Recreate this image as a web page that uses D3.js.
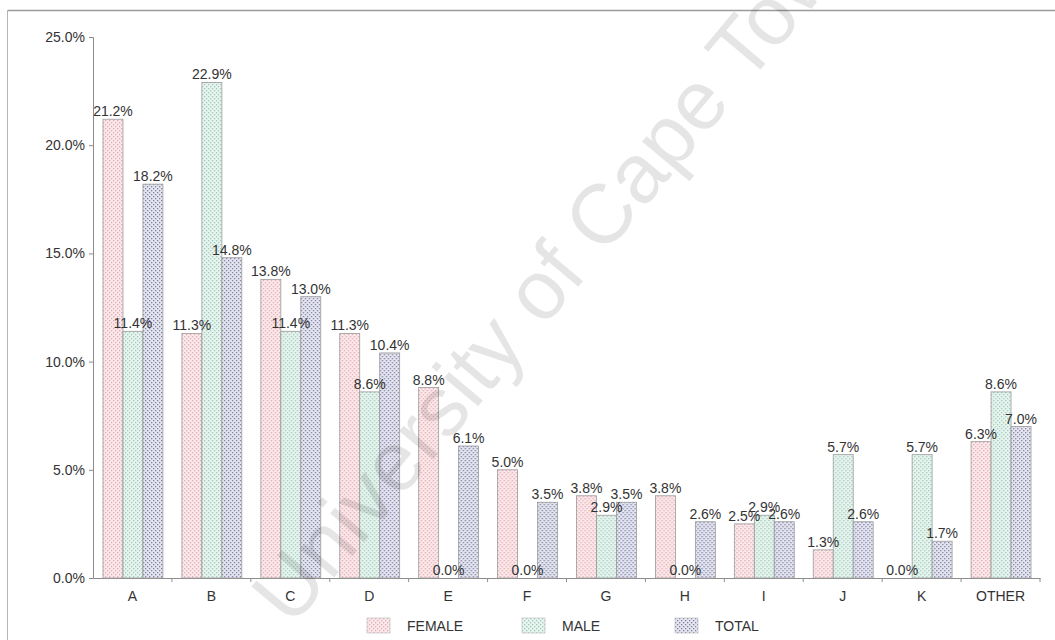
<!DOCTYPE html>
<html>
<head>
<meta charset="utf-8">
<script src="https://cdn.jsdelivr.net/npm/d3@7"></script>
<style>
  body { margin: 0; background: #fff; }
  svg { display: block; font-family: "Liberation Sans", Arial, sans-serif; }
</style>
</head>
<body>
<svg id="chart" width="1055" height="640"></svg>
<script>
'use strict'

// categories and series
const categories = ['A', 'B', 'C', 'D', 'E', 'F', 'G', 'H', 'I', 'J', 'K', 'OTHER']
const series = ['FEMALE', 'MALE', 'TOTAL']
const female = [21.2, 11.3, 13.8, 11.3, 8.8, 5.0, 3.8, 3.8, 2.5, 1.3, 0.0, 6.3]
const male = [11.4, 22.9, 11.4, 8.6, 0.0, 0.0, 2.9, 0.0, 2.9, 5.7, 5.7, 8.6]
const total = [18.2, 14.8, 13.0, 10.4, 6.1, 3.5, 3.5, 2.6, 2.6, 2.6, 1.7, 7.0]
const yTicks = [0, 5, 10, 15, 20, 25]

const values = [female, male, total]

// dotted fills, one per series
const fills = [
    { bg: '#fbe9eb', dot: '#e3a9b0' },
    { bg: '#e8f4ef', dot: '#9ccbb8' },
    { bg: '#e6e6f0', dot: '#7e7fa6' },
]

const svg = d3.select('#chart')
const margin = { top: 37, right: 15, bottom: 62, left: 93 }
const width = 1055
const height = 640
const x0 = margin.left, x1 = width - margin.right
const yBase = height - margin.bottom

const defs = svg.append('defs')
fills.forEach((f, i) => {
    const p = defs.append('pattern')
        .attr('id', 'pat' + i)
        .attr('patternUnits', 'userSpaceOnUse')
        .attr('width', 4).attr('height', 4)
    p.append('rect').attr('width', 4).attr('height', 4).attr('fill', f.bg)
    p.append('rect').attr('x', 0).attr('y', 0).attr('width', 1.3).attr('height', 1.3).attr('fill', f.dot)
    p.append('rect').attr('x', 2).attr('y', 2).attr('width', 1.3).attr('height', 1.3).attr('fill', f.dot)
})

// scanned page frame
svg.append('line').attr('x1', 8).attr('x2', width).attr('y1', 10.5).attr('y2', 10.5)
    .attr('stroke', '#9a9a9a').attr('stroke-width', 1.5)
svg.append('line').attr('x1', 7.5).attr('x2', 7.5).attr('y1', 10).attr('y2', height)
    .attr('stroke', '#b5b5b5').attr('stroke-width', 1)

const x = d3.scaleBand().domain(categories).range([x0, x1]).paddingInner(0).paddingOuter(0)
const xs = d3.scaleBand().domain(series).range([10, x.bandwidth() - 9]).padding(0)
const y = d3.scaleLinear().domain([0, 25]).range([yBase, margin.top])

// y axis
const yAxis = svg.append('g')
    .attr('transform', `translate(${x0},0)`)
    .call(d3.axisLeft(y).tickValues(yTicks).tickSize(4).tickFormat(d => d3.format('.1f')(d) + '%'))
yAxis.select('.domain').attr('stroke', '#8c8c8c')
yAxis.selectAll('.tick line').attr('stroke', '#8c8c8c')
yAxis.selectAll('.tick text').attr('fill', '#333').attr('font-size', 14).attr('x', -8)
    .attr('font-family', '"Liberation Sans", Arial, sans-serif')

// x axis
const xAxis = svg.append('g')
    .attr('transform', `translate(0,${yBase})`)
    .call(d3.axisBottom(x).tickSize(0).tickPadding(13))
xAxis.select('.domain').attr('stroke', '#8c8c8c')
xAxis.selectAll('.tick text').attr('fill', '#333').attr('font-size', 14)
    .attr('font-family', '"Liberation Sans", Arial, sans-serif')
// separators between categories
svg.append('g').selectAll('line')
    .data(categories.slice(1).concat(['end']))
    .join('line')
    .attr('x1', (d, i) => i < categories.length - 1 ? x(d) : x1)
    .attr('x2', (d, i) => i < categories.length - 1 ? x(d) : x1)
    .attr('y1', yBase).attr('y2', yBase + 4)
    .attr('stroke', '#8c8c8c')

// bars
const groups = svg.append('g').selectAll('g')
    .data(categories)
    .join('g')
    .attr('transform', d => `translate(${x(d)},0)`)

groups.selectAll('rect')
    .data((d, ci) => series.map((s, si) => ({ s, si, v: values[si][ci] })))
    .join('rect')
    .attr('x', d => xs(d.s))
    .attr('width', xs.bandwidth())
    .attr('y', d => y(d.v))
    .attr('height', d => yBase - y(d.v))
    .attr('fill', d => `url(#pat${d.si})`)
    .attr('stroke', '#9a9a9a')
    .attr('stroke-width', 0.8)

groups.selectAll('text')
    .data((d, ci) => series.map((s, si) => ({ s, si, v: values[si][ci] })))
    .join('text')
    .attr('x', d => xs(d.s) + xs.bandwidth() / 2)
    .attr('y', d => y(d.v) - 3)
    .attr('text-anchor', 'middle')
    .attr('font-size', 14)
    .attr('fill', '#333')
    .text(d => d3.format('.1f')(d.v) + '%')

// legend
const legendX = [367, 522, 675]
const legend = svg.append('g').selectAll('g')
    .data(series)
    .join('g')
    .attr('transform', (d, i) => `translate(${legendX[i]},618)`)
legend.append('rect')
    .attr('width', 23).attr('height', 15)
    .attr('fill', (d, i) => `url(#pat${i})`)
    .attr('stroke', '#c8c8c8').attr('stroke-width', 0.8)
legend.append('text')
    .attr('x', 40).attr('y', 13)
    .attr('font-size', 14)
    .attr('fill', '#333')
    .text(d => d)

// faint repository watermark over the scan
svg.append('text')
    .attr('transform', 'translate(565,268) rotate(-50)')
    .attr('text-anchor', 'middle')
    .attr('dominant-baseline', 'middle')
    .attr('font-size', 84)
    .attr('fill', '#000')
    .attr('fill-opacity', 0.1)
    .text('University of Cape Town')
</script>
</body>
</html>
